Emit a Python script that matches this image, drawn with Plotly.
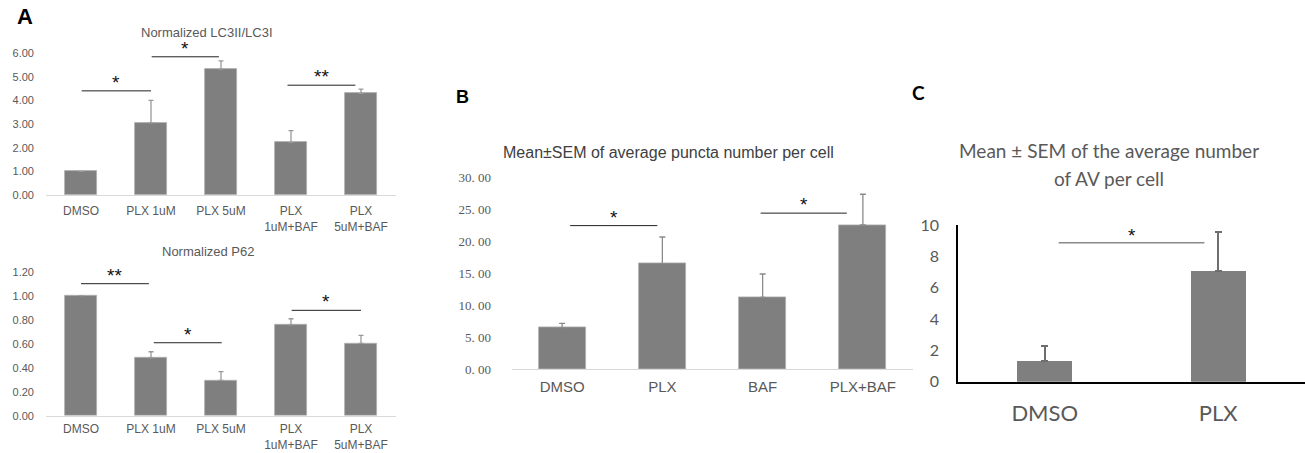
import plotly.graph_objects as go

# ---------------- data ----------------
# Panel A (top): Normalized LC3II/LC3I
a1_categories = ["DMSO", "PLX 1uM", "PLX 5uM", "PLX<br>1uM+BAF", "PLX<br>5uM+BAF"]
a1_values = [1.00, 3.05, 5.32, 2.22, 4.29]
a1_errors = [0.0, 0.95, 0.35, 0.50, 0.18]
a1_ticks = [0, 1, 2, 3, 4, 5, 6]
a1_sig = [(0.01, 1.0, 4.40, "*"), (1.01, 1.97, 5.84, "*"), (2.95, 3.92, 4.64, "**")]

# Panel A (bottom): Normalized P62
a2_categories = ["DMSO", "PLX 1uM", "PLX 5uM", "PLX<br>1uM+BAF", "PLX<br>5uM+BAF"]
a2_values = [1.00, 0.483, 0.295, 0.758, 0.603]
a2_errors = [0.0, 0.05, 0.072, 0.05, 0.067]
a2_ticks = [0, 0.2, 0.4, 0.6, 0.8, 1.0, 1.2]
a2_sig = [(0.0, 0.97, 1.10, "**"), (1.04, 2.01, 0.608, "*"), (3.01, 4.0, 0.878, "*")]

# Panel B: puncta number per cell
b_categories = ["DMSO", "PLX", "BAF", "PLX+BAF"]
b_values = [6.5, 16.5, 11.25, 22.55]
b_errors = [0.69, 4.17, 3.64, 4.8]
b_ticks = [0, 5, 10, 15, 20, 25, 30]
b_ticktext = ["0. 00", "5. 00", "10. 00", "15. 00", "20. 00", "25. 00", "30. 00"]
b_sig = [(0.08, 0.95, 22.45, "*"), (1.98, 2.84, 24.4, "*")]

# Panel C: AV per cell
c_categories = ["DMSO", "PLX"]
c_values = [1.34, 7.05]
c_errors = [0.96, 2.49]
c_ticks = [0, 2, 4, 6, 8, 10]
c_sig = [(0.08, 0.92, 8.87, "*")]

# ---------------- layout helpers ----------------
W, H = 1305, 453
BAR = "#7f7f7f"
TXT = "#595959"


def px_x(p):
    return p / W


def px_y(p):
    return 1 - p / H


fig = go.Figure()


def add_panel(idx, cats, vals, errs, width, err_w, err_thick, err_color, edge):
    xa = "x" if idx == 1 else f"x{idx}"
    ya = "y" if idx == 1 else f"y{idx}"
    fig.add_trace(go.Bar(
        x=cats, y=vals, xaxis=xa, yaxis=ya, width=width,
        marker=dict(color=BAR, line=dict(width=edge, color="#b0b0b0")),
        error_y=dict(type="data", array=errs, arrayminus=[0] * len(errs),
                     symmetric=False, color=err_color, thickness=err_thick,
                     width=err_w),
        showlegend=False, hoverinfo="skip",
    ))
    return xa, ya


def add_sig(xa, ya, sig, line_color, line_w, star_size, star_shift, font_family):
    for x0, x1, h, s in sig:
        fig.add_shape(type="line", xref=xa, yref=ya, x0=x0, x1=x1, y0=h, y1=h,
                      line=dict(color=line_color, width=line_w))
        fig.add_annotation(xref=xa, yref=ya, x=(x0 + x1) / 2, y=h, text=s,
                           showarrow=False, yanchor="bottom", yshift=star_shift,
                           font=dict(size=star_size, color="#111111", family=font_family))


sans = "Liberation Sans, Arial"

# Panel A top
xa1, ya1 = add_panel(1, a1_categories, a1_values, a1_errors, 0.46, 2.5, 1.3, "#9a9a9a", 0.8)
add_sig(xa1, ya1, a1_sig, "#222222", 1, 19, -4, sans)
# Panel A bottom
xa2, ya2 = add_panel(2, a2_categories, a2_values, a2_errors, 0.46, 2.5, 1.3, "#9a9a9a", 0.8)
add_sig(xa2, ya2, a2_sig, "#222222", 1, 19, -4, sans)
# Panel B
xa3, ya3 = add_panel(3, b_categories, b_values, b_errors, 0.47, 3, 1.3, "#8a8a8a", 0.8)
add_sig(xa3, ya3, b_sig, "#222222", 1, 19, -4, sans)
# Panel C
xa4, ya4 = add_panel(4, c_categories, c_values, c_errors, 0.315, 3.5, 1.8, "#6e6e6e", 0)
add_sig(xa4, ya4, c_sig, "#8a8a8a", 1.4, 19, -5, "Liberation Sans")

common_x = dict(type="category", showgrid=False, zeroline=False, ticks="",
                showline=True, linecolor="#d9d9d9", linewidth=1, automargin=False)
common_y = dict(showgrid=False, zeroline=False, ticks="", showline=False, automargin=False)

fig.update_layout(
    width=W, height=H, margin=dict(l=0, r=0, t=0, b=0),
    paper_bgcolor="white", plot_bgcolor="white", bargap=0,
    xaxis=dict(**common_x, domain=[px_x(46), px_x(396)], anchor="y", ticklabelstandoff=5,
               tickfont=dict(size=12, color=TXT, family=sans)),
    yaxis=dict(**common_y, domain=[px_y(195), px_y(53)], range=[0, 6], anchor="x",
               tickvals=a1_ticks, tickformat=".2f", ticklabelstandoff=11,
               tickfont=dict(size=11, color=TXT, family=sans)),
    xaxis2=dict(**common_x, domain=[px_x(46), px_x(396)], anchor="y2", ticklabelstandoff=2,
                tickfont=dict(size=12, color=TXT, family=sans)),
    yaxis2=dict(**common_y, domain=[px_y(415.7), px_y(271.7)], range=[0, 1.2], anchor="x2",
                tickvals=a2_ticks, tickformat=".2f", ticklabelstandoff=11,
                tickfont=dict(size=11, color=TXT, family=sans)),
    xaxis3=dict(**common_x, domain=[px_x(512), px_x(913)], anchor="y3", ticklabelstandoff=4,
                tickfont=dict(size=15, color=TXT, family=sans)),
    yaxis3=dict(**common_y, domain=[px_y(369.3), px_y(177.3)], range=[0, 30], anchor="x3",
                tickvals=b_ticks, ticktext=b_ticktext, ticklabelstandoff=20,
                tickfont=dict(size=13, color=TXT, family="Liberation Serif")),
    xaxis4=dict(type="category", showgrid=False, zeroline=False, ticks="",
                showline=True, linecolor="black", linewidth=1.5, automargin=False,
                domain=[px_x(958), 1.0], anchor="y4", ticklabelstandoff=11,
                tickfont=dict(size=22, color=TXT, family="Lato")),
    yaxis4=dict(showgrid=False, zeroline=False, ticks="", showline=True,
                linecolor="black", linewidth=1.5, automargin=False,
                domain=[px_y(381.7), px_y(225)], range=[0, 10], anchor="x4",
                tickvals=c_ticks, ticklabelstandoff=14,
                tickfont=dict(size=16, color=TXT, family="Lato")),
)

# titles and panel letters
def label(x, y, text, size, color, family, bold=False):
    fig.add_annotation(xref="paper", yref="paper", x=px_x(x), y=px_y(y), text=f"<b>{text}</b>" if bold else text,
                       showarrow=False, xanchor="center", yanchor="middle",
                       font=dict(size=size, color=color, family=family))

label(207, 32, "Normalized LC3II/LC3I", 13, TXT, sans)
label(208, 252, "Normalized P62", 13, TXT, sans)
label(669, 153, "Mean\u00b1SEM of average puncta number per cell", 16, "#404040", sans)
label(1109, 150, "Mean \u00b1 SEM of the average number", 19, TXT, "Lato")
label(1109, 178, "of AV per cell", 19, TXT, "Lato")
label(25, 17, "A", 22, "black", sans, bold=True)
label(462, 97, "B", 18, "black", sans, bold=True)
label(918, 92, "C", 19, "black", "Lato", bold=True)

fig.write_html("out.html", config={"displayModeBar": False},
               post_script="document.body.style.margin='0';document.body.style.overflow='hidden';")
